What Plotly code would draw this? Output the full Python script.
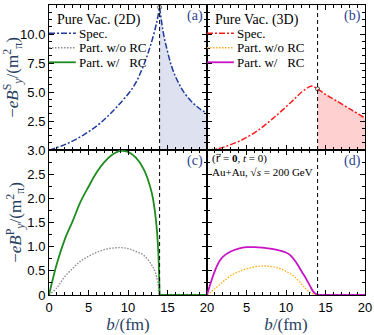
import plotly.graph_objects as go
from plotly.subplots import make_subplots

# panel (a): 2D pure vacuum, spectator field
b_a_in = [0, 2.2, 4.35, 6.45, 8.6, 10.7, 11.9, 12.8, 13.6, 14.0]
spec_a_in = [0, 0.52, 1.29, 2.3, 3.73, 5.46, 7.18, 8.9, 10.9, 12.3]
b_a_out = [14.0, 14.5, 15.0, 15.5, 16.0, 16.5, 17.0, 18.0, 19.0, 20.0]
spec_a_out = [12.3, 10.0, 8.5, 7.25, 6.35, 5.65, 5.05, 4.2, 3.6, 3.15]

# panel (b): 3D pure vacuum, spectator field
b_b = [0, 1.2, 2.3, 4.4, 6.5, 8.6, 10.7, 12.0, 13.0, 13.4, 14.0, 15.0, 16.2, 18.3, 20.0]
spec_b = [0, 0.08, 0.29, 0.86, 1.72, 2.87, 4.16, 5.0, 5.46, 5.5, 5.26, 4.8, 4.31, 3.45, 2.75]

# panel (c): participants, 2D
b_c = [0, 1, 2, 3, 4, 5, 6, 7, 8, 9, 10, 11, 12, 13, 13.5, 13.8, 14.0]
part_rc_c = [0, 0.65, 1.15, 1.53, 1.93, 2.24, 2.53, 2.75, 2.9, 2.98, 2.96, 2.84, 2.6, 2.12, 1.6, 1.0, 0]
b_c_dot = [0, 1, 2, 3, 4, 5, 6, 7, 8, 9, 10, 11, 12, 13, 13.5, 14.0]
part_norc_c = [0, 0.15, 0.38, 0.55, 0.7, 0.8, 0.88, 0.94, 0.97, 0.98, 0.96, 0.9, 0.82, 0.62, 0.45, 0]

# panel (d): participants, 3D
b_d = [0, 0.5, 1, 1.5, 2, 3, 4, 5, 6, 7, 8, 9, 10, 10.5, 11, 11.5, 12, 12.5, 13, 13.5, 14.0]
part_rc_d = [0, 0.27, 0.5, 0.68, 0.79, 0.9, 0.96, 0.99, 0.99, 0.98, 0.96, 0.93, 0.88, 0.83,
             0.74, 0.62, 0.48, 0.35, 0.2, 0.06, 0]
b_d_dot = [0, 1, 2, 3, 4, 5, 6, 7, 8, 9, 10, 11, 12, 12.5, 13, 13.5, 14.0]
part_norc_d = [0, 0.13, 0.27, 0.4, 0.48, 0.54, 0.58, 0.6, 0.59, 0.56, 0.49, 0.39, 0.22, 0.13,
               0.06, 0.02, 0]

b_edge = [14.0, 20.0]
zero_tail = [0, 0]
b_cut = 14.0

legend_labels = ["Spec.", "Part. w/o RC", "Part. w/\u00a0\u00a0\u00a0RC"]

BLUE = "#1d3a9c"
RED = "#ff1a1a"
GREEN = "#1e8c1e"
GREY = "#8c8c8c"
MAGENTA = "#c812c8"
ORANGE = "#ffb020"
LABEL = "#2b3f90"
SERIF = "Liberation Serif"
SANS = "Liberation Sans"
DASHDOT = "6px,2px,2px,2px"
DOTS = "1.5px,1.5px"

fig = make_subplots(rows=2, cols=2, horizontal_spacing=0, vertical_spacing=0)

# (a)
fig.add_trace(go.Scatter(x=b_a_out, y=spec_a_out, mode="lines", line=dict(width=0, shape="spline"),
                         fill="tozeroy", fillcolor="rgba(190,198,225,0.5)",
                         hoverinfo="skip"), row=1, col=1)
fig.add_trace(go.Scatter(x=b_a_in, y=spec_a_in, mode="lines",
                         line=dict(color=BLUE, width=1.5, dash=DASHDOT, shape="spline")), row=1, col=1)
fig.add_trace(go.Scatter(x=b_a_out, y=spec_a_out, mode="lines",
                         line=dict(color=BLUE, width=1.5, dash=DASHDOT, shape="spline")), row=1, col=1)
fig.add_trace(go.Scatter(x=[b_a_in[-1]], y=[spec_a_in[-1]], mode="markers",
                         marker=dict(symbol="circle-open", size=4, color="#555555")), row=1, col=1)

# (b)
b_b_out = [x for x in b_b if x >= b_cut]
spec_b_out = [y for x, y in zip(b_b, spec_b) if x >= b_cut]
fig.add_trace(go.Scatter(x=b_b_out, y=spec_b_out, mode="lines", line=dict(width=0, shape="spline"),
                         fill="tozeroy", fillcolor="rgba(255,170,170,0.55)",
                         hoverinfo="skip"), row=1, col=2)
fig.add_trace(go.Scatter(x=b_b, y=spec_b, mode="lines",
                         line=dict(color=RED, width=1.5, dash=DASHDOT, shape="spline")), row=1, col=2)
fig.add_trace(go.Scatter(x=[b_cut], y=[spec_b[b_b.index(b_cut)]], mode="markers",
                         marker=dict(symbol="circle-open", size=4, color="#555555")), row=1, col=2)

# (c)
fig.add_trace(go.Scatter(x=b_c_dot, y=part_norc_c, mode="lines",
                         line=dict(color=GREY, width=1.4, dash=DOTS, shape="spline")), row=2, col=1)
fig.add_trace(go.Scatter(x=b_c, y=part_rc_c, mode="lines",
                         line=dict(color=GREEN, width=1.8, shape="spline")), row=2, col=1)
fig.add_trace(go.Scatter(x=b_edge, y=zero_tail, mode="lines",
                         line=dict(color=GREEN, width=1.8)), row=2, col=1)

# (d)
fig.add_trace(go.Scatter(x=b_d_dot, y=part_norc_d, mode="lines",
                         line=dict(color=ORANGE, width=1.4, dash=DOTS, shape="spline")), row=2, col=2)
fig.add_trace(go.Scatter(x=b_d, y=part_rc_d, mode="lines",
                         line=dict(color=MAGENTA, width=1.8, shape="spline")), row=2, col=2)
fig.add_trace(go.Scatter(x=b_edge, y=zero_tail, mode="lines",
                         line=dict(color=MAGENTA, width=1.8)), row=2, col=2)

fig.update_traces(showlegend=False)

for r in (1, 2):
    for c in (1, 2):
        fig.add_vline(x=b_cut, row=r, col=c, line=dict(color="black", width=1, dash="4px,3px"))

axis_style = dict(showline=True, linecolor="black", linewidth=1, mirror="ticks", automargin=False,
                  ticks="inside", ticklen=5, tickcolor="black", showgrid=False, zeroline=False,
                  tickfont=dict(family=SANS, size=13, color="black"))

for r in (1, 2):
    for c in (1, 2):
        fig.update_xaxes(axis_style, range=[0, 20], row=r, col=c,
                         minor=dict(ticks="inside", ticklen=3, dtick=1, tickcolor="black"))

fig.update_xaxes(showticklabels=False, row=1, col=1)
fig.update_xaxes(showticklabels=False, row=1, col=2)
fig.update_xaxes(tickvals=[0, 5, 10, 15, 20], row=2, col=1,
                 title=dict(text="<i>b</i>/(fm)", font=dict(family=SERIF, size=17), standoff=2))
fig.update_xaxes(tickvals=[5, 10, 15, 20], row=2, col=2,
                 title=dict(text="<i>b</i>/(fm)", font=dict(family=SERIF, size=17), standoff=2))

for c in (1, 2):
    fig.update_yaxes(axis_style, range=[0, 12.5], row=1, col=c,
                     tickvals=[2.5, 5, 7.5, 10, 12.5], ticktext=["2.5", "5.0", "7.5", "10.0", "12.5"],
                     minor=dict(ticks="inside", ticklen=3, dtick=0.625, tickcolor="black"))
    fig.update_yaxes(axis_style, range=[0, 3.0], row=2, col=c,
                     tickvals=[0, 0.5, 1, 1.5, 2, 2.5, 3],
                     ticktext=["0", "0.5", "1.0", "1.5", "2.0", "2.5", "3.0"],
                     minor=dict(ticks="inside", ticklen=3, dtick=0.25, tickcolor="black"))
fig.update_yaxes(showticklabels=False, row=1, col=2)
fig.update_yaxes(showticklabels=False, row=2, col=2)
fig.update_yaxes(row=1, col=1, title=dict(
    text="\u2212<i>eB</i><sup>S</sup><sub><i>y</i></sub>/(m<sup>2</sup><sub>\u03c0</sub>)",
    font=dict(family=SERIF, size=17), standoff=0))
fig.update_yaxes(row=2, col=1, title=dict(
    text="\u2212<i>eB</i><sup>P</sup><sub><i>y</i></sub>/(m<sup>2</sup><sub>\u03c0</sub>)",
    font=dict(family=SERIF, size=17), standoff=0))

for text, xr, yr in [("(a)", "x", "y"), ("(b)", "x2", "y2"), ("(c)", "x3", "y3"), ("(d)", "x4", "y4")]:
    fig.add_annotation(text=text, xref=xr + " domain", yref=yr + " domain", x=0.985, y=0.99,
                       xanchor="right", yanchor="top", showarrow=False,
                       font=dict(family=SERIF, size=14, color=LABEL))

fig.add_annotation(text="(<span style='font-family:DejaVu Sans'>r\u20d7</span> = <b>0</b>, <i>t</i> = 0)"
                        "<br>Au+Au, \u221a<i>s</i> = 200 GeV",
                   xref="x4 domain", yref="y4 domain", x=0.02, y=1.0, xanchor="left", yanchor="top",
                   align="left", showarrow=False, font=dict(family=SERIF, size=11, color="black"))

# legends drawn by hand, to get the tight row spacing of the original
legend_sets = [
    ("x", "y", "Pure Vac. (2D)", [(BLUE, DASHDOT, 1.5), (GREY, DOTS, 1.4), (GREEN, "solid", 1.8)]),
    ("x2", "y2", "Pure Vac. (3D)", [(RED, DASHDOT, 1.5), (ORANGE, DOTS, 1.4), (MAGENTA, "solid", 1.8)]),
]
for xr, yr, title, styles in legend_sets:
    fig.add_annotation(text=title, xref=xr + " domain", yref=yr + " domain", x=0.04, y=0.895,
                       xanchor="left", yanchor="middle", showarrow=False,
                       font=dict(family=SERIF, size=14, color="black"))
    for i, (label, (col, dash, w)) in enumerate(zip(legend_labels, styles)):
        yy = 0.805 - i * 0.1
        fig.add_shape(type="line", xref=xr + " domain", yref=yr + " domain",
                      x0=0.0, x1=0.17, y0=yy, y1=yy, line=dict(color=col, width=w, dash=dash))
        fig.add_annotation(text=label, xref=xr + " domain", yref=yr + " domain", x=0.175, y=yy,
                           xanchor="left", yanchor="middle", showarrow=False,
                           font=dict(family=SERIF, size=13, color="black"))

fig.update_layout(
    width=374, height=335,
    margin=dict(l=49, r=9, t=5, b=40),
    plot_bgcolor="white", paper_bgcolor="white",
    showlegend=False,
)

# the page body has a default 8px margin; drop it so the figure sits at the window corner
fig.write_html("out.html", config={"displayModeBar": False},
               post_script="document.body.style.margin='0px';")
